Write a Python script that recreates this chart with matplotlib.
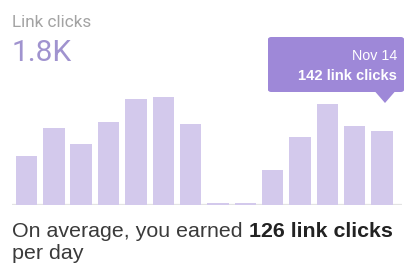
import matplotlib
matplotlib.use("Agg")
import matplotlib.pyplot as plt
from matplotlib.patches import FancyBboxPatch, Polygon

# ---- data ----
days = ["Nov 1", "Nov 2", "Nov 3", "Nov 4", "Nov 5", "Nov 6", "Nov 7",
        "Nov 8", "Nov 9", "Nov 10", "Nov 11", "Nov 12", "Nov 13", "Nov 14"]
clicks = [94, 148, 117, 159, 203, 207, 155, 3, 3, 67, 130, 194, 152, 142]
title = "Link clicks"
total_label = "1.8K"
tip_date = "Nov 14"
tip_value = "142 link clicks"
avg_prefix = "On average, you earned "
avg_bold = "126 link clicks"
avg_suffix = "per day"

W, H = 414, 269
fig = plt.figure(figsize=(W / 100, H / 100), dpi=100)
fig.patch.set_facecolor("white")

def fx(px):
    return px / W

def fy(py):
    return 1 - py / H

# ---- bar axes ----
ax_left, ax_right, ax_top, ax_bottom = 12, 402, 37, 205
ax = fig.add_axes([fx(ax_left), fy(ax_bottom), fx(ax_right - ax_left), (ax_bottom - ax_top) / H])
x = list(range(len(clicks)))
ax.bar(x, clicks, width=0.785, color="#d3c9ec", zorder=2)
ax.set_xlim(-0.53, 13.73)
ax.set_ylim(0, 322)
ax.axhline(0, color="#e3e3e3", lw=1.6, zorder=1)
ax.axis("off")

# ---- header ----
fig.text(fx(12), fy(27), title, fontsize=12.3, color="#a3a3a3",
         family=["Roboto", "DejaVu Sans"], va="baseline", ha="left")
fig.text(fx(12), fy(61), total_label, fontsize=21.5, color="#a093cf",
         family=["Roboto", "DejaVu Sans"], fontweight="normal", va="baseline", ha="left")

# ---- tooltip ----
bx0, bx1, by0, by1 = 268, 404, 37, 92
box = FancyBboxPatch((fx(bx0), fy(by1)), fx(bx1 - bx0), (by1 - by0) / H,
                     boxstyle="round,pad=0,rounding_size=0.008",
                     transform=fig.transFigure, facecolor="#9e88d8",
                     edgecolor="none", zorder=5)
fig.patches.append(box)
tri = Polygon([(fx(375), fy(91.5)), (fx(395), fy(91.5)), (fx(385), fy(103))],
              closed=True, transform=fig.transFigure, facecolor="#9e88d8",
              edgecolor="none", zorder=5)
fig.patches.append(tri)
fig.text(fx(397), fy(60), tip_date, fontsize=10.3, color="white",
         family=["Liberation Sans", "DejaVu Sans"], ha="right", va="baseline", zorder=6)
fig.text(fx(397), fy(80), tip_value, fontsize=10.6, color="white", fontweight="bold",
         family=["Liberation Sans", "DejaVu Sans"], ha="right", va="baseline", zorder=6)

# ---- footer ----
fs = 15.4
t1 = fig.text(fx(12), fy(237), avg_prefix, fontsize=fs, color="#3a3a3a",
              family=["Liberation Sans", "DejaVu Sans"], ha="left", va="baseline")
fig.canvas.draw()
bb = t1.get_window_extent(renderer=fig.canvas.get_renderer())
fig.text(bb.x1 / W, fy(237), avg_bold, fontsize=fs, color="#222222", fontweight="bold",
         family=["Liberation Sans", "DejaVu Sans"], ha="left", va="baseline")
fig.text(fx(12), fy(259), avg_suffix, fontsize=fs, color="#3a3a3a",
         family=["Liberation Sans", "DejaVu Sans"], ha="left", va="baseline")

fig.savefig("out.png", dpi=100, facecolor="white")
